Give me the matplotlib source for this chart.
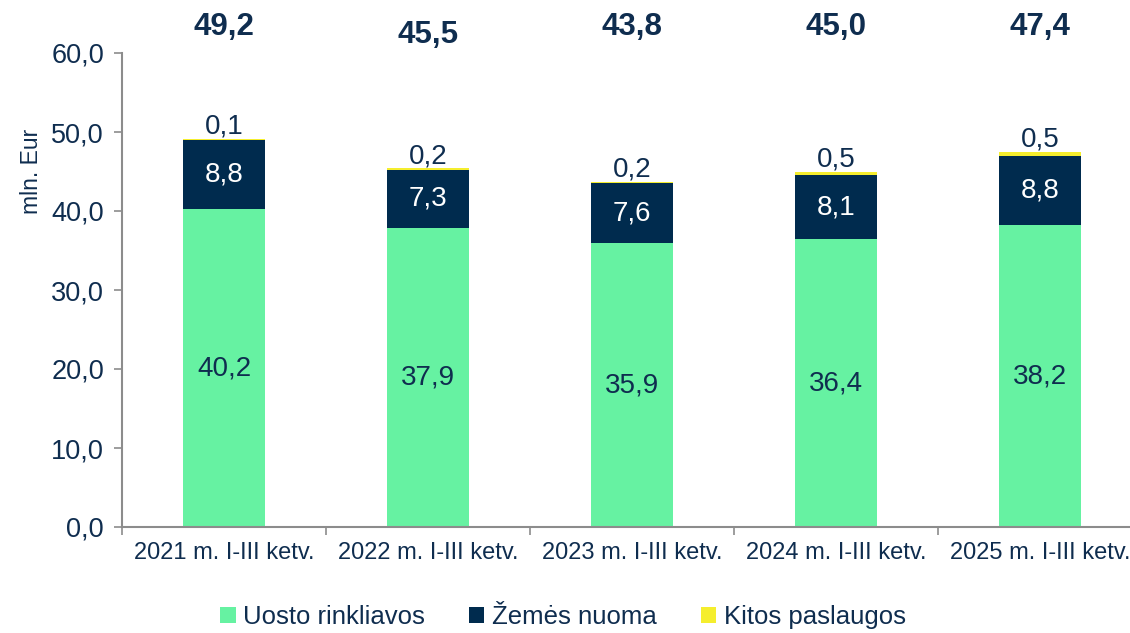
import matplotlib
matplotlib.use('Agg')
import matplotlib.pyplot as plt
import numpy as np

categories = ['2021 m. I-III ketv.', '2022 m. I-III ketv.', '2023 m. I-III ketv.',
              '2024 m. I-III ketv.', '2025 m. I-III ketv.']
uosto = [40.2, 37.9, 35.9, 36.4, 38.2]
zeme = [8.8, 7.3, 7.6, 8.1, 8.8]
kitos = [0.1, 0.2, 0.2, 0.5, 0.5]
totals = [49.2, 45.5, 43.8, 45.0, 47.4]
series_names = ['Uosto rinkliavos', 'Žemės nuoma', 'Kitos paslaugos']

GREEN = '#66F2A2'
NAVY = '#002B4E'
YELLOW = '#F5EE2E'
TXT = '#0F2D4F'

plt.rcParams['font.family'] = ['Liberation Sans', 'DejaVu Sans']

fig = plt.figure(figsize=(11.3, 6.33), dpi=100)
ax = fig.add_axes([122 / 1130, 106 / 633, 1020 / 1130, 474 / 633])

x = np.arange(len(categories))
w = 0.40
b1 = ax.bar(x, uosto, w, color=GREEN, label=series_names[0])
b2 = ax.bar(x, zeme, w, bottom=uosto, color=NAVY, label=series_names[1])
bot3 = np.array(uosto) + np.array(zeme)
b3 = ax.bar(x, kitos, w, bottom=bot3, color=YELLOW, label=series_names[2])

def fmt(v):
    return f'{v:.1f}'.replace('.', ',')

for i in range(len(x)):
    ax.text(x[i], uosto[i] / 2, fmt(uosto[i]),
            ha='center', va='center', fontsize=20, color=TXT)
    ax.text(x[i], uosto[i] + zeme[i] / 2, fmt(zeme[i]),
            ha='center', va='center', fontsize=20, color='white')
    ax.text(x[i], bot3[i] + kitos[i] - 0.1, fmt(kitos[i]),
            ha='center', va='bottom', fontsize=20, color=TXT)
    # total label on top; the 2022 one sits a touch lower in the original
    ty = 62.3 if i == 1 else 63.3
    ax.text(x[i], ty, fmt(totals[i]),
            ha='center', va='center', fontsize=22.5, fontweight='bold', color=TXT,
            clip_on=False)

ax.set_xlim(-0.5, 4.5)
ax.set_ylim(0, 60)
yt = np.arange(0, 61, 10)
ax.set_yticks(yt)
ax.set_yticklabels([fmt(v) for v in yt])
ax.set_xticks(x)
ax.set_xticklabels(categories)
ax.set_xticks(np.arange(-0.5, 4.6, 1), minor=True)
ax.tick_params(axis='x', which='major', length=0, pad=11, labelsize=17, labelcolor=TXT)
ax.tick_params(axis='x', which='minor', length=6, color='#8C8C8C', width=1.2)
ax.tick_params(axis='y', length=6, color='#8C8C8C', width=1.2, labelsize=19.5,
               labelcolor=TXT, pad=7)
for s in ['top', 'right']:
    ax.spines[s].set_visible(False)
for s in ['left', 'bottom']:
    ax.spines[s].set_color('#8C8C8C')
    ax.spines[s].set_linewidth(1.5)
ax.set_ylabel('mln. Eur', fontsize=16.5, color=TXT)
ax.yaxis.set_label_coords(-0.077, 0.75)

fig.legend(handles=[b1, b2, b3], labels=series_names, loc='center',
           bbox_to_anchor=(563 / 1130, 1 - 617 / 633), ncol=3, frameon=False,
           fontsize=18.5, labelcolor=TXT, handlelength=0.6, handleheight=0.6,
           handletextpad=0.3, columnspacing=1.7)

fig.savefig('out.png', dpi=100)
